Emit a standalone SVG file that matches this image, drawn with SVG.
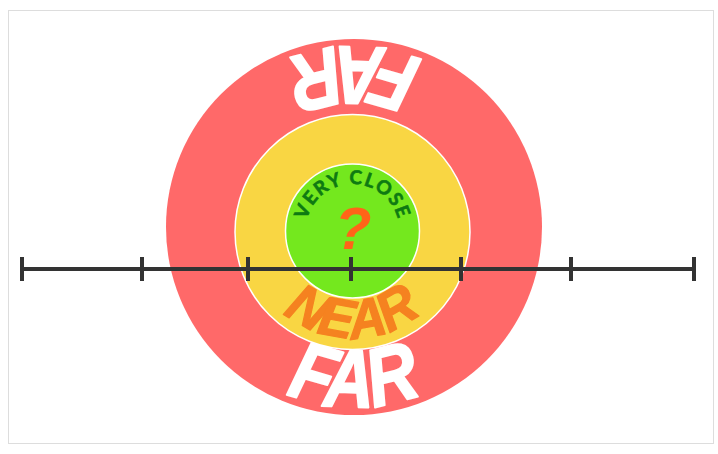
<svg xmlns="http://www.w3.org/2000/svg" width="718" height="454" viewBox="0 0 718 454">
  <style>
    .far { font-family: "Liberation Sans", Arial, sans-serif; font-weight: bold; font-style: italic; font-size: 82px; fill: #ffffff; stroke: #ffffff; stroke-width: 2; stroke-linejoin: round; }
    .near { font-family: "Liberation Sans", Arial, sans-serif; font-weight: bold; font-style: italic; font-size: 55px; fill: #F58220; stroke: #F58220; stroke-width: 1.2; stroke-linejoin: round; }
    .close { font-family: Lato, "Liberation Sans", sans-serif; font-weight: bold; font-size: 19px; fill: #0E7A12; stroke: #0E7A12; stroke-width: 0.6; letter-spacing: 1.5px; }
    .q { font-family: "Liberation Sans", Arial, sans-serif; font-weight: bold; font-style: italic; font-size: 60px; fill: #FF6418; }
    .tick { stroke: #333333; stroke-width: 4; }
  </style>
  <defs>
    <path id="farBottom" d="M 174 227 A 180 180 0 0 0 534 227"/>
    <path id="farTop" d="M 534 227 A 180 180 0 0 0 174 227"/>
    <path id="nearBottom" d="M 246.5 232 A 106 106 0 0 0 458.5 232"/>
    <path id="closeTop" d="M 305.5 231 A 47 47 0 0 1 399.5 231"/>
  </defs>
  <rect x="8.5" y="10.5" width="705" height="433" fill="#ffffff" stroke="#dddddd" stroke-width="1"/>
  <g id="far">
    <circle cx="354" cy="227" r="188" fill="#FF6969"/>
    <text class="far" text-anchor="middle"><textPath href="#farTop" startOffset="50%" textLength="140" lengthAdjust="spacingAndGlyphs">FAR</textPath></text>
    <text class="far" text-anchor="middle"><textPath href="#farBottom" startOffset="50%" textLength="140" lengthAdjust="spacingAndGlyphs">FAR</textPath></text>
  </g>
  <g id="near">
    <circle cx="352.5" cy="232" r="117.5" fill="#F9D643" stroke="#ffffff" stroke-width="1.5"/>
    <text class="near" text-anchor="middle"><textPath href="#nearBottom" startOffset="50%" textLength="150" lengthAdjust="spacingAndGlyphs">NEAR</textPath></text>
  </g>
  <g id="very-close">
    <circle cx="352.5" cy="231" r="67" fill="#74E81E" stroke="#ffffff" stroke-width="1.5"/>
    <text class="close" text-anchor="middle"><textPath href="#closeTop" startOffset="50%">VERY CLOSE</textPath></text>
    <text class="q" x="353" y="249" text-anchor="middle">?</text>
  </g>
  <g id="axis">
    <line class="tick" x1="22" y1="269" x2="694" y2="269"/>
    <line class="tick" x1="22" y1="257" x2="22" y2="281"/>
    <line class="tick" x1="142" y1="257" x2="142" y2="281"/>
    <line class="tick" x1="248" y1="257" x2="248" y2="281"/>
    <line class="tick" x1="351" y1="257" x2="351" y2="281"/>
    <line class="tick" x1="461" y1="257" x2="461" y2="281"/>
    <line class="tick" x1="571" y1="257" x2="571" y2="281"/>
    <line class="tick" x1="694" y1="257" x2="694" y2="281"/>
  </g>
</svg>
